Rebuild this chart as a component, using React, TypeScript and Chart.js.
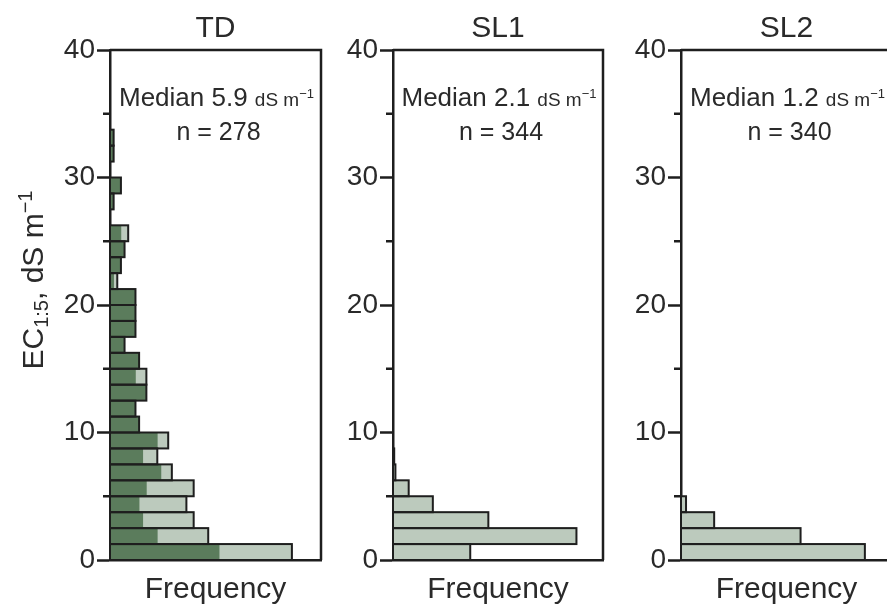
import React, { useEffect, useRef } from 'react';
import { Chart, registerables } from 'chart.js';

Chart.register(...registerables);

// ---------- data ----------
const binLabels = [
  '0–1.25', '1.25–2.5', '2.5–3.75', '3.75–5', '5–6.25', '6.25–7.5', '7.5–8.75', '8.75–10',
  '10–11.25', '11.25–12.5', '12.5–13.75', '13.75–15', '15–16.25', '16.25–17.5', '17.5–18.75', '18.75–20',
  '20–21.25', '21.25–22.5', '22.5–23.75', '23.75–25', '25–26.25', '26.25–27.5', '27.5–28.75', '28.75–30',
  '30–31.25', '31.25–32.5', '32.5–33.75', '33.75–35', '35–36.25', '36.25–37.5', '37.5–38.75', '38.75–40',
];

const tdDark = [30, 13, 9, 8, 10, 14, 9, 13, 8, 7, 10, 7, 8, 4, 7, 7, 7, 1, 3, 4, 3, 0, 1, 3, 0, 1, 1, 0, 0, 0, 0, 0];
const tdLight = [20, 14, 14, 13, 13, 3, 4, 3, 0, 0, 0, 3, 0, 0, 0, 0, 0, 1, 0, 0, 2, 0, 0, 0, 0, 0, 0, 0, 0, 0, 0, 0];
const sl1Light = [64, 152, 79, 33, 13, 2, 1, 0, 0, 0, 0, 0, 0, 0, 0, 0, 0, 0, 0, 0, 0, 0, 0, 0, 0, 0, 0, 0, 0, 0, 0, 0];
const sl2Light = [183, 119, 33, 5, 0, 0, 0, 0, 0, 0, 0, 0, 0, 0, 0, 0, 0, 0, 0, 0, 0, 0, 0, 0, 0, 0, 0, 0, 0, 0, 0, 0];

const panelTitles = ['TD', 'SL1', 'SL2'];
const medianValues = ['5.9', '2.1', '1.2'];
const sampleSizes = [278, 344, 340];
const frequencyMax = [58, 174, 210];
const yMin = 0;
const yMax = 40;
const yMajorStep = 10;
const yMinorTicks = [5, 15, 25, 35];

// ---------- styles / layout ----------
const FAMILY = "'Liberation Sans', Arial, Helvetica, sans-serif";
const TEXT = '#2a2a2a';
const AXIS = '#1e1e1e';
const DARK = '#5b7c5c';
const LIGHT = '#bccabd';

const layouts = [
  { left: 0, width: 335, axisW: 110, padRight: 14, yLabel: true },
  { left: 335, width: 290, axisW: 58, padRight: 22, yLabel: false },
  { left: 625, width: 290, axisW: 56, padRight: 23, yLabel: false },
];

type Part = { t: string; size: number; dy?: number };

function partsWidth(ctx: CanvasRenderingContext2D, parts: Part[]) {
  let w = 0;
  for (const p of parts) {
    ctx.font = `${p.size}px ${FAMILY}`;
    w += ctx.measureText(p.t).width;
  }
  return w;
}

function drawParts(ctx: CanvasRenderingContext2D, parts: Part[], x: number, y: number) {
  let cx = x;
  for (const p of parts) {
    ctx.font = `${p.size}px ${FAMILY}`;
    ctx.fillText(p.t, cx, y + (p.dy || 0));
    cx += ctx.measureText(p.t).width;
  }
}

function makeDecor(idx: number, showYLabel: boolean) {
  return {
    id: 'decor' + idx,
    afterDatasetsDraw(chart: any) {
      const ctx: CanvasRenderingContext2D = chart.ctx;
      const xs = chart.scales.x;
      const base = xs.getPixelForValue(0);
      const metas = chart.getSortedVisibleDatasetMetas();
      ctx.save();
      ctx.strokeStyle = AXIS;
      ctx.lineWidth = 2;
      for (let j = 0; j < binLabels.length; j++) {
        let top: any = null;
        for (const m of metas) {
          const v = chart.data.datasets[m.index].data[j];
          if (v > 0) top = m.data[j];
        }
        if (!top) continue;
        const { x, y, height } = top.getProps(['x', 'y', 'height'], true);
        ctx.strokeRect(base, y - height / 2, x - base, height);
      }
      ctx.restore();
    },
    afterDraw(chart: any) {
      const ctx: CanvasRenderingContext2D = chart.ctx;
      const ca = chart.chartArea;
      const ys = chart.scales.yv;
      ctx.save();
      // frame top + right
      ctx.strokeStyle = AXIS;
      ctx.lineWidth = 2.5;
      ctx.beginPath();
      ctx.moveTo(ca.left, ca.top);
      ctx.lineTo(ca.right, ca.top);
      ctx.lineTo(ca.right, ca.bottom);
      ctx.stroke();
      // minor ticks
      ctx.beginPath();
      for (const v of yMinorTicks) {
        const py = ys.getPixelForValue(v);
        ctx.moveTo(ca.left - 7, py);
        ctx.lineTo(ca.left, py);
      }
      ctx.stroke();

      const cx = (ca.left + ca.right) / 2;
      ctx.fillStyle = TEXT;
      ctx.textBaseline = 'alphabetic';
      ctx.textAlign = 'left';
      // panel title
      const tParts: Part[] = [{ t: panelTitles[idx], size: 30 }];
      drawParts(ctx, tParts, cx - partsWidth(ctx, tParts) / 2, 37);
      // median line
      const mParts: Part[] = [
        { t: 'Median ' + medianValues[idx] + ' ', size: 26 },
        { t: 'dS m', size: 19 },
        { t: '−1', size: 13, dy: -8 },
      ];
      drawParts(ctx, mParts, cx - partsWidth(ctx, mParts) / 2 + 1, 106);
      const nParts: Part[] = [{ t: 'n = ' + sampleSizes[idx], size: 25 }];
      drawParts(ctx, nParts, cx - partsWidth(ctx, nParts) / 2 + 3, 140);

      if (showYLabel) {
        const yParts: Part[] = [
          { t: 'EC', size: 30 },
          { t: '1:5', size: 20, dy: 5 },
          { t: ', dS m', size: 30 },
          { t: '−1', size: 20, dy: -11 },
        ];
        const w = partsWidth(ctx, yParts);
        ctx.translate(43, 280);
        ctx.rotate(-Math.PI / 2);
        drawParts(ctx, yParts, -w / 2, 0);
      }
      ctx.restore();
    },
  };
}

function buildConfig(idx: number) {
  const lay = layouts[idx];
  const datasets: any[] = [];
  if (idx === 0) {
    datasets.push({ label: 'TD dark', data: tdDark, backgroundColor: DARK });
    datasets.push({ label: 'TD light', data: tdLight, backgroundColor: LIGHT });
  } else if (idx === 1) {
    datasets.push({ label: 'SL1', data: sl1Light, backgroundColor: LIGHT });
  } else {
    datasets.push({ label: 'SL2', data: sl2Light, backgroundColor: LIGHT });
  }
  for (const d of datasets) {
    d.stack = 's';
    d.xAxisID = 'x';
    d.yAxisID = 'y';
    d.borderWidth = 0;
    d.barPercentage = 1;
    d.categoryPercentage = 1;
    d.inflateAmount = (c: any) => (c.raw > 0 ? 0.33 : 0);
  }
  return {
    type: 'bar',
    data: { labels: binLabels, datasets },
    options: {
      indexAxis: 'y',
      animation: false,
      responsive: false,
      maintainAspectRatio: false,
      events: [],
      layout: { padding: { top: 50, right: lay.padRight, left: 0, bottom: 0 } },
      plugins: { legend: { display: false }, tooltip: { enabled: false }, title: { display: false } },
      scales: {
        x: {
          type: 'linear',
          axis: 'x',
          position: 'bottom',
          min: 0,
          max: frequencyMax[idx],
          stacked: true,
          offset: false,
          grid: { display: false },
          ticks: { display: false },
          border: { display: true, color: AXIS, width: 2.5 },
          title: {
            display: true,
            text: 'Frequency',
            color: TEXT,
            font: { size: 30, family: FAMILY, lineHeight: 1.1 },
            padding: { top: 0, bottom: 0 },
          },
          afterFit(s: any) { s.height = 46; },
        },
        y: {
          type: 'category',
          axis: 'y',
          position: 'left',
          reverse: true,
          offset: true,
          stacked: true,
          display: false,
        },
        yv: {
          type: 'linear',
          axis: 'y',
          position: 'left',
          min: yMin,
          max: yMax,
          offset: false,
          ticks: { stepSize: yMajorStep, color: TEXT, font: { size: 28, family: FAMILY }, padding: 2 },
          grid: {
            display: true,
            offset: false,
            drawOnChartArea: false,
            drawTicks: true,
            tickLength: 13,
            tickColor: AXIS,
            tickWidth: 2.5,
          },
          border: { display: true, color: AXIS, width: 2.5 },
          afterFit(s: any) { s.width = lay.axisW; },
        },
      },
    },
    plugins: [makeDecor(idx, lay.yLabel)],
  };
}

function Panel({ idx }: { idx: number }) {
  const ref = useRef<HTMLCanvasElement | null>(null);
  useEffect(() => {
    if (!ref.current) return;
    const chart = new Chart(ref.current, buildConfig(idx) as any);
    return () => chart.destroy();
  }, [idx]);
  const lay = layouts[idx];
  return (
    <canvas
      ref={ref}
      width={lay.width}
      height={606}
      style={{ position: 'absolute', left: lay.left, top: 0, width: lay.width, height: 606, display: 'block' }}
    />
  );
}

export default function App() {
  return (
    <div
      style={{
        position: 'absolute',
        left: 0,
        top: 0,
        width: 887,
        height: 606,
        overflow: 'hidden',
        background: '#ffffff',
      }}
    >
      {[0, 1, 2].map((i) => (
        <Panel key={i} idx={i} />
      ))}
    </div>
  );
}
